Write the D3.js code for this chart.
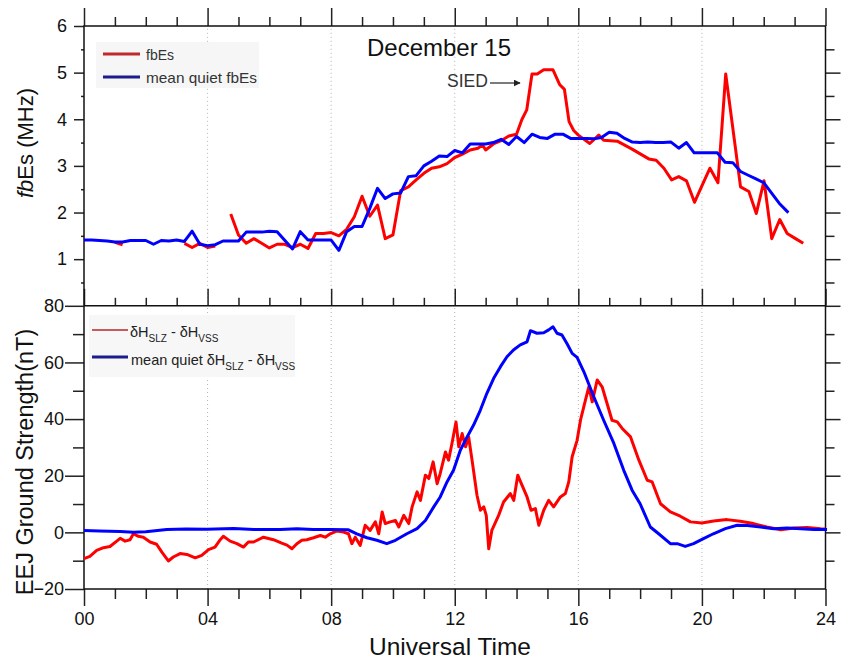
<!DOCTYPE html>
<html>
<head>
<meta charset="utf-8">
<script src="https://cdn.jsdelivr.net/npm/d3@7"></script>
<style>
  body { margin: 0; background: #fff; }
  svg { display: block; font-family: "Liberation Sans", Arial, sans-serif; }
  .axis line { stroke: #222; stroke-width: 1.5; }
  .axis text { font-size: 18px; fill: #111; font-family: "Liberation Sans", Arial, sans-serif; }
</style>
</head>
<body>
<div id="chart"></div>
<script>
// ---- fbEs panel (MHz); null = data gap
const fbesHours = [1.0, 1.25, 1.3,
  3.25, 3.5, 3.75, 4.0, 4.25, 4.5,
  4.75, 5.0, 5.25, 5.5, 5.75, 6.0, 6.25, 6.5, 6.75, 7.0, 7.25, 7.5, 7.75, 8.0, 8.25, 8.5, 8.75,
  9.0, 9.25, 9.5, 9.75, 10.0, 10.25, 10.5, 10.75, 11.0, 11.25, 11.5, 11.75, 12.0, 12.25, 12.5,
  12.75, 12.9, 13.0, 13.25, 13.5, 13.75, 14.0, 14.17, 14.33, 14.5, 14.67, 14.88, 15.18, 15.4,
  15.55, 15.7, 15.85, 16.0, 16.37, 16.66, 16.82, 17.26, 17.74, 18.28, 18.52, 18.77, 19.02, 19.25,
  19.5, 19.76, 20.01, 20.26, 20.52, 20.77, 21.25, 21.52, 21.76, 22.01, 22.26, 22.52, 22.76, 23.03, 23.28];
const fbesValues = [1.36, 1.31, null,
  1.34, 1.25, 1.34, 1.25, 1.28, null,
  1.97, 1.52, 1.34, 1.44, 1.34, 1.24, 1.32, 1.32, 1.25, 1.32, 1.23, 1.55, 1.55, 1.57, 1.50, 1.64, 1.91,
  2.35, 1.92, 2.16, 1.44, 1.52, 2.47, 2.55, 2.70, 2.84, 2.95, 2.98, 3.05, 3.18, 3.25, 3.34,
  3.38, 3.45, 3.34, 3.47, 3.54, 3.64, 3.68, 3.99, 4.20, 4.97, 4.97, 5.06, 5.06, 4.74,
  4.64, 3.95, 3.76, 3.66, 3.48, 3.66, 3.55, 3.53, 3.36, 3.15, 3.12, 2.95, 2.70, 2.77,
  2.68, 2.22, 2.59, 2.95, 2.64, 4.97, 2.55, 2.45, 1.98, 2.68, 1.44, 1.85, 1.55, 1.44, 1.34];

const quietHours = [0, 0.25, 0.5, 0.75, 1.0, 1.25, 1.5, 1.75, 2.0, 2.25, 2.5, 2.75, 3.0, 3.25, 3.5,
  3.75, 4.0, 4.25, 4.5, 4.75, 5.0, 5.25, 5.5, 5.75, 6.0, 6.25, 6.75, 7.0, 7.25, 7.5, 7.75, 8.0,
  8.25, 8.5, 8.75, 9.0, 9.25, 9.5, 9.75, 10.0, 10.25, 10.5, 10.75, 11.0, 11.25, 11.5, 11.75, 12.0,
  12.25, 12.5, 12.75, 13.0, 13.25, 13.5, 13.75, 14.0, 14.25, 14.5, 14.75, 15.0, 15.25, 15.5, 15.75,
  16.0, 16.25, 16.5, 16.75, 17.0, 17.25, 17.5, 17.75, 18.0, 18.25, 18.5, 18.75, 19.0, 19.25, 19.5,
  19.75, 20.0, 20.25, 20.5, 20.75, 21.0, 21.25, 21.5, 21.75, 22.0, 22.25, 22.5, 22.75, 22.8];
const quietValues = [1.41, 1.41, 1.40, 1.39, 1.37, 1.37, 1.40, 1.40, 1.40, 1.32, 1.40, 1.39, 1.41, 1.38, 1.60,
  1.32, 1.29, 1.31, 1.39, 1.39, 1.39, 1.58, 1.58, 1.58, 1.60, 1.59, 1.22, 1.59, 1.41, 1.41, 1.41, 1.41,
  1.19, 1.59, 1.70, 1.70, 2.09, 2.52, 2.30, 2.40, 2.42, 2.77, 2.79, 3.00, 3.10, 3.21, 3.20, 3.33,
  3.28, 3.47, 3.47, 3.47, 3.50, 3.57, 3.46, 3.63, 3.50, 3.68, 3.61, 3.59, 3.68, 3.68, 3.59,
  3.59, 3.59, 3.58, 3.61, 3.72, 3.70, 3.59, 3.51, 3.50, 3.51, 3.50, 3.50, 3.51, 3.38, 3.50,
  3.28, 3.28, 3.28, 3.28, 3.08, 3.07, 2.88, 2.80, 2.72, 2.64, 2.42, 2.20, 2.03, 2.00];

// ---- EEJ panel (nT)
const eejHours = [0, 0.19, 0.41, 0.63, 0.84, 1.06, 1.17, 1.33, 1.49, 1.6, 1.76, 1.92, 2.14, 2.35, 2.52,
  2.73, 2.89, 3.11, 3.33, 3.6, 3.81, 4.03, 4.24, 4.41, 4.51, 4.73, 4.95, 5.16, 5.32, 5.49, 5.81,
  6.13, 6.4, 6.57, 6.73, 6.89, 7.05, 7.21, 7.43, 7.65, 7.81, 7.97, 8.19, 8.4, 8.56, 8.67, 8.78,
  8.94, 9.1, 9.26, 9.43, 9.54, 9.65, 9.75, 9.91, 10.08, 10.19, 10.35, 10.51, 10.62, 10.78, 10.89,
  11.05, 11.16, 11.3, 11.43, 11.53, 11.7, 11.8, 11.91, 12.04, 12.13, 12.24, 12.35, 12.45, 12.56,
  12.72, 12.83, 12.94, 13.02, 13.1, 13.2, 13.42, 13.58, 13.8, 13.91, 14.04, 14.18, 14.34, 14.47,
  14.61, 14.72, 14.88, 15.04, 15.2, 15.42, 15.58, 15.69, 15.8, 15.96, 16.07, 16.23, 16.34, 16.45,
  16.61, 16.77, 16.93, 17.09, 17.26, 17.42, 17.69, 17.96, 18.23, 18.39, 18.66, 18.98, 19.3, 19.63,
  20.0, 20.38, 20.81, 21.24, 21.67, 22.1, 22.55, 22.98, 23.41, 23.84, 24.0];
const eejValues = [-9.3, -8.5, -6.4, -5.4, -5.0, -3.1, -2.1, -3.1, -2.6, -0.5, -1.4, -1.7, -3.4, -4.2, -7.0,
  -10.1, -8.7, -7.5, -7.8, -9.0, -8.1, -6.1, -5.2, -2.6, -1.4, -3.1, -4.0, -5.2, -3.4, -3.4, -1.7,
  -2.6, -3.8, -4.5, -5.8, -4.0, -2.8, -2.6, -1.9, -1.1, -1.7, -0.5, 0.5, 0.1, -0.5, -4.0, -1.7,
  -4.6, 2.5, 0.7, 3.7, -0.5, 7.2, 3.1, 3.7, 4.2, 1.9, 6.0, 3.1, 9.0, 14.3, 11.3,
  20.2, 19.0, 24.9, 17.2, 20.8, 28.4, 25.5, 31.4, 39.0, 30.2, 34.9, 30.2, 33.7, 25.5,
  13.1, 7.8, 9.0, 6.0, -5.8, 0.7, 6.0, 10.7, 13.7, 11.3, 20.2, 16.6, 12.5, 7.8,
  8.4, 2.5, 7.8, 11.3, 9.0, 12.5, 13.7, 17.8, 26.7, 32.5, 39.6, 46.7, 51.4, 46.1,
  53.8, 51.4, 45.5, 39.6, 39.0, 36.7, 33.7, 25.5, 18.4, 17.8, 10.1, 7.2, 5.7, 3.7,
  3.3, 4.0, 4.5, 3.9, 3.1, 1.9, 0.9, 1.5, 1.7, 1.3, 1.2];

const eejQuietHours = [0, 0.5, 1.17, 1.6, 2.0, 2.68, 3.3, 3.97, 4.84, 5.5, 6.35, 6.89, 7.42, 7.96, 8.56,
  8.83, 9.16, 9.48, 9.8, 10.08, 10.45, 10.78, 11.05, 11.32, 11.53, 11.75, 11.96, 12.18, 12.4, 12.61,
  12.83, 13.04, 13.26, 13.48, 13.69, 13.9, 14.12, 14.34, 14.45, 14.66, 14.88, 15.04, 15.18, 15.31,
  15.47, 15.64, 15.8, 15.96, 16.18, 16.5, 16.82, 17.15, 17.47, 17.74, 18.0, 18.33, 18.6, 18.98,
  19.2, 19.46, 19.73, 20.05, 20.37, 20.76, 21.14, 21.47, 21.9, 22.33, 22.76, 23.2, 23.63, 24.05];
const eejQuietValues = [0.7, 0.5, 0.3, 0.0, 0.2, 1.0, 1.2, 1.1, 1.4, 1.0, 1.0, 1.3, 1.0, 1.0, 0.9,
  -0.5, -1.9, -2.8, -4.0, -2.8, -0.5, 1.3, 4.2, 9.0, 12.5, 17.8, 21.9, 29.0, 33.7, 37.9,
  43.2, 49.1, 54.4, 58.5, 62.0, 64.4, 66.2, 67.3, 71.2, 70.3, 70.5, 71.5, 72.6, 70.3,
  69.7, 66.5, 63.2, 61.8, 56.7, 47.9, 39.6, 31.4, 21.9, 14.9, 10.1, 1.9, -0.5, -4.0,
  -4.0, -4.95, -4.0, -2.2, -0.5, 1.3, 2.5, 2.4, 1.9, 1.3, 1.5, 1.3, 1.0, 1.0];

const hourLabels = ["00", "04", "08", "12", "16", "20", "24"];

// ---- layout
const width = 841, height = 662;
const svg = d3.select("#chart").append("svg")
    .attr("width", width)
    .attr("height", height);

const x = d3.scaleLinear().domain([0, 24]).range([84, 825.5]);
const yTop = d3.scaleLinear().domain([0, 6]).range([305.8, 26]);
const yBot = d3.scaleLinear().domain([-20, 80]).range([589, 305.8]);

const majorHours = d3.range(0, 25, 4);
const minorHours = d3.range(0, 25, 1).filter(h => h % 4 !== 0);

// dotted vertical gridlines
[[yTop, 0, 6], [yBot, -20, 80]].forEach(([ys, lo, hi]) => {
    svg.append("g").selectAll("line")
        .data([4, 8, 12, 16, 20])
        .join("line")
        .attr("x1", d => x(d)).attr("x2", d => x(d))
        .attr("y1", ys(lo)).attr("y2", ys(hi))
        .attr("stroke", "#b5b5b5")
        .attr("stroke-width", 1)
        .attr("stroke-dasharray", "1,3");
});

// helper: an axis call with no domain path
function addAxis(axis, tx, ty) {
    let g = svg.append("g")
        .attr("class", "axis")
        .attr("transform", "translate(" + tx + "," + ty + ")")
        .call(axis);
    g.select(".domain").remove();
    return g;
}

// top panel: top edge (outward), bottom edge (inward)
addAxis(d3.axisTop(x).tickValues(majorHours).tickSize(18).tickFormat(""), 0, yTop(6));
addAxis(d3.axisTop(x).tickValues(minorHours).tickSize(9).tickFormat(""), 0, yTop(6));
addAxis(d3.axisTop(x).tickValues(majorHours).tickSize(17).tickFormat(""), 0, yTop(0));
addAxis(d3.axisTop(x).tickValues(minorHours).tickSize(8).tickFormat(""), 0, yTop(0));

// top panel y axes
addAxis(d3.axisLeft(yTop).tickValues([1, 2, 3, 4, 5, 6]).tickSize(10).tickPadding(7).tickFormat(d3.format("d")), x(0), 0);
addAxis(d3.axisLeft(yTop).tickValues([0.5, 1.5, 2.5, 3.5, 4.5, 5.5]).tickSize(3).tickFormat(""), x(0), 0);
addAxis(d3.axisRight(yTop).tickValues([1, 2, 3, 4, 5]).tickSize(15).tickFormat(""), x(24), 0);
addAxis(d3.axisRight(yTop).tickValues([0.5, 1.5, 2.5, 3.5, 4.5, 5.5]).tickSize(9).tickFormat(""), x(24), 0);

// bottom panel axes
addAxis(d3.axisBottom(x).tickValues(majorHours).tickSize(17).tickPadding(6)
    .tickFormat((d, i) => hourLabels[i]), 0, yBot(-20));
addAxis(d3.axisBottom(x).tickValues(minorHours).tickSize(10).tickFormat(""), 0, yBot(-20));
addAxis(d3.axisLeft(yBot).tickValues(d3.range(-20, 81, 20)).tickSize(19).tickPadding(1).tickFormat(d3.format("d")), x(0), 0);
addAxis(d3.axisLeft(yBot).tickValues(d3.range(-10, 71, 20)).tickSize(11).tickFormat(""), x(0), 0);
addAxis(d3.axisRight(yBot).tickValues(d3.range(0, 81, 20)).tickSize(15).tickFormat(""), x(24), 0);
addAxis(d3.axisRight(yBot).tickValues(d3.range(-10, 71, 20)).tickSize(9).tickFormat(""), x(24), 0);

// frames
svg.append("rect")
    .attr("x", x(0)).attr("y", yTop(6))
    .attr("width", x(24) - x(0)).attr("height", yBot(-20) - yTop(6))
    .attr("fill", "none").attr("stroke", "#111").attr("stroke-width", 1.5);
svg.append("line")
    .attr("x1", x(0)).attr("x2", x(24))
    .attr("y1", yTop(0)).attr("y2", yTop(0))
    .attr("stroke", "#111").attr("stroke-width", 1.5);

// series
function drawSeries(hours, values, ys, color, w) {
    let pts = hours.map((h, i) => [h, values[i]]);
    let line = d3.line()
        .defined(d => d[1] !== null)
        .x(d => x(d[0]))
        .y(d => ys(d[1]));
    svg.append("path")
        .datum(pts)
        .attr("d", line)
        .attr("fill", "none")
        .attr("stroke", color)
        .attr("stroke-width", w)
        .attr("stroke-linejoin", "round");
}

drawSeries(fbesHours, fbesValues, yTop, "#ff0000", 3);
drawSeries(quietHours, quietValues, yTop, "#0000ff", 3);
drawSeries(eejHours, eejValues, yBot, "#ff0000", 3);
drawSeries(eejQuietHours, eejQuietValues, yBot, "#0000ff", 3);

// top legend
let legTop = svg.append("g");
legTop.append("rect").attr("x", 96).attr("y", 42).attr("width", 163).attr("height", 46).attr("fill", "#f6f6f6");
legTop.append("line").attr("x1", 103).attr("x2", 140).attr("y1", 54).attr("y2", 54)
    .attr("stroke", "#c0282d").attr("stroke-width", 3);
legTop.append("line").attr("x1", 103).attr("x2", 140).attr("y1", 77).attr("y2", 77)
    .attr("stroke", "#1c1c8e").attr("stroke-width", 3);
legTop.append("text").attr("x", 146).attr("y", 60).text("fbEs")
    .attr("font-size", 15).attr("fill", "#333")
    .attr("textLength", 28).attr("lengthAdjust", "spacingAndGlyphs");
legTop.append("text").attr("x", 146).attr("y", 83).text("mean quiet fbEs")
    .attr("font-size", 15).attr("fill", "#333")
    .attr("textLength", 111).attr("lengthAdjust", "spacingAndGlyphs");

// bottom legend
let legBot = svg.append("g");
legBot.append("rect").attr("x", 89).attr("y", 315).attr("width", 206).attr("height", 62).attr("fill", "#f7f7f7");
legBot.append("line").attr("x1", 92).attr("x2", 128).attr("y1", 330).attr("y2", 330)
    .attr("stroke", "#b22a2a").attr("stroke-width", 1.6);
legBot.append("line").attr("x1", 92).attr("x2", 128).attr("y1", 357).attr("y2", 357)
    .attr("stroke", "#1c1c8e").attr("stroke-width", 3);

function deltaLabel(g, tx, ty, prefix) {
    let t = g.append("text").attr("x", tx).attr("y", ty)
        .attr("font-size", 14.5).attr("fill", "#222");
    t.append("tspan").text(prefix + "δH");
    t.append("tspan").text("SLZ").attr("font-size", 10).attr("dy", 5);
    t.append("tspan").text(" - δH").attr("dy", -5);
    t.append("tspan").text("VSS").attr("font-size", 10).attr("dy", 5);
}
deltaLabel(legBot, 130, 337, "");
deltaLabel(legBot, 131, 365, "mean quiet ");

// titles
svg.append("text")
    .attr("x", 439).attr("y", 56)
    .attr("text-anchor", "middle")
    .attr("font-size", 24)
    .attr("fill", "#111")
    .text("December 15");

svg.append("text")
    .attr("x", 447).attr("y", 87)
    .attr("font-size", 19)
    .attr("fill", "#333")
    .attr("textLength", 41).attr("lengthAdjust", "spacingAndGlyphs")
    .text("SIED");
svg.append("defs").append("marker")
    .attr("id", "arrowHead")
    .attr("viewBox", "0 0 10 10")
    .attr("refX", 9).attr("refY", 5)
    .attr("markerWidth", 7).attr("markerHeight", 7)
    .attr("markerUnits", "userSpaceOnUse")
    .attr("orient", "auto")
    .append("path").attr("d", "M0,0 L10,5 L0,10 Z").attr("fill", "#222");
svg.append("line")
    .attr("x1", 490).attr("x2", 520).attr("y1", 83).attr("y2", 83)
    .attr("stroke", "#333").attr("stroke-width", 1.3)
    .attr("marker-end", "url(#arrowHead)");

svg.append("text")
    .attr("x", 450).attr("y", 655)
    .attr("text-anchor", "middle")
    .attr("font-size", 24.5)
    .attr("fill", "#111")
    .text("Universal Time");

let yt1 = svg.append("text")
    .attr("transform", "translate(33,143) rotate(-90)")
    .attr("text-anchor", "middle")
    .attr("font-size", 22)
    .attr("fill", "#111");
yt1.append("tspan").attr("font-style", "italic").text("fb");
yt1.append("tspan").text("Es (MHz)");

svg.append("text")
    .attr("transform", "translate(33,462) rotate(-90)")
    .attr("text-anchor", "middle")
    .attr("font-size", 23.5)
    .attr("fill", "#111")
    .text("EEJ Ground Strength(nT)");
</script>
</body>
</html>
